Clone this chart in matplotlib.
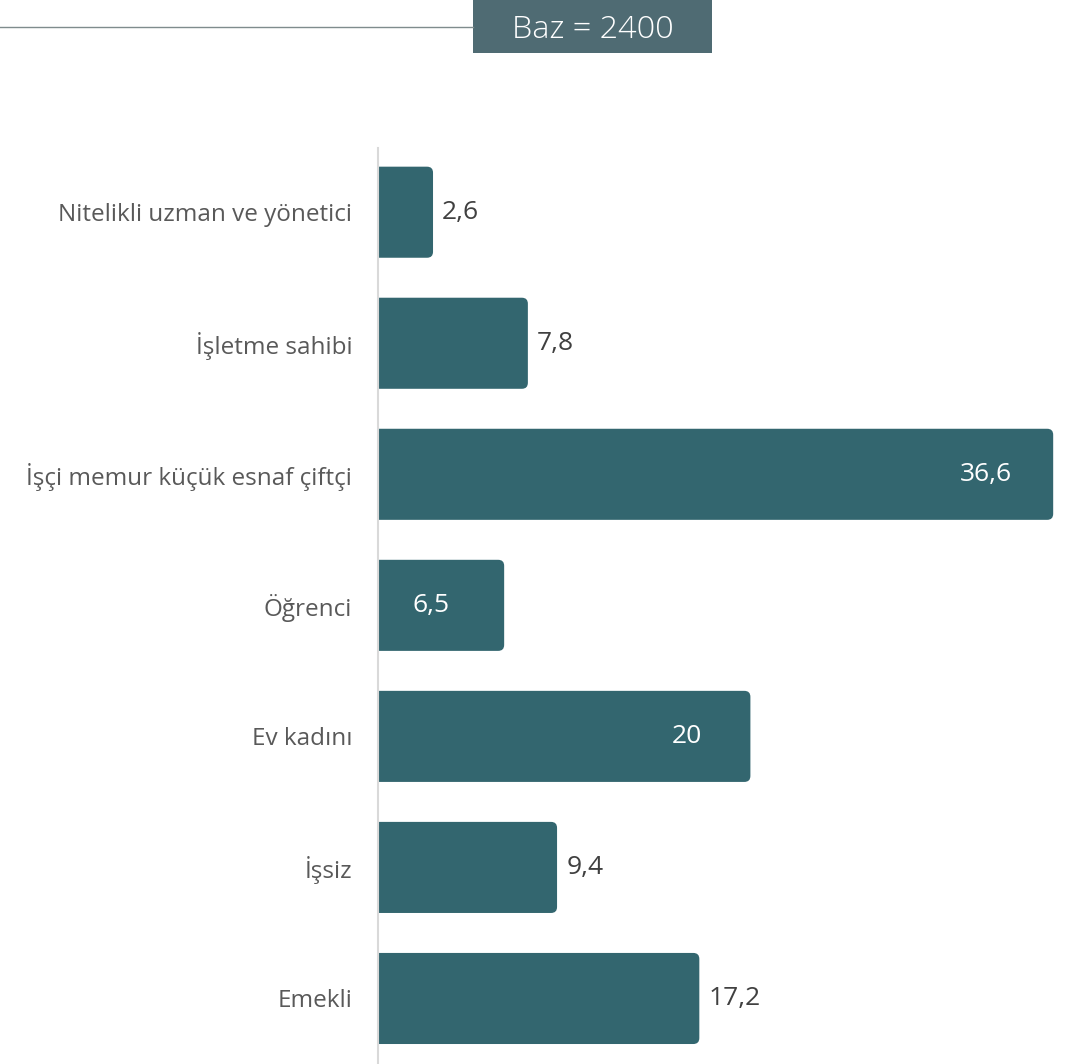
import matplotlib
matplotlib.use("Agg")
import matplotlib.pyplot as plt
from matplotlib.patches import FancyBboxPatch, Rectangle
from matplotlib.lines import Line2D

categories = ["Nitelikli uzman ve yönetici", "İşletme sahibi", "İşçi memur küçük esnaf çiftçi",
              "Öğrenci", "Ev kadını", "İşsiz", "Emekli"]
values = [2.6, 7.8, 36.6, 6.5, 20, 9.4, 17.2]
value_labels = ["2,6", "7,8", "36,6", "6,5", "20", "9,4", "17,2"]
inside = [False, False, True, True, True, False, False]
header_text = "Baz = 2400"

plt.rcParams['font.family'] = ['Open Sans', 'DejaVu Sans']

W, H = 1071, 1064
fig = plt.figure(figsize=(W / 100, H / 100), dpi=100)

ax_left, ax_right = 378, 1071
ax_top, ax_bottom = 148, 1064
ax = fig.add_axes([ax_left / W, 1 - ax_bottom / H, (ax_right - ax_left) / W, (ax_bottom - ax_top) / H])

px_per_unit = 18.24
x0 = -7.6 / px_per_unit
xmax = x0 + (ax_right - ax_left) / px_per_unit
ax.set_xlim(x0, xmax)
ax.set_ylim(6.5, -0.49)

bar_color = "#33666F"
bar_h = 0.695
r = 6 / px_per_unit
ma = px_per_unit / 131.0
for i, v in enumerate(values):
    p = FancyBboxPatch((x0 - 1, i - bar_h / 2), v - x0 + 1, bar_h,
                       boxstyle=f"round,pad=0,rounding_size={r}",
                       mutation_aspect=ma, facecolor=bar_color, edgecolor="none",
                       clip_on=True)
    ax.add_patch(p)
    if inside[i]:
        ax.text(v * 1.025 - 3.15, i, value_labels[i], ha="right", va="center",
                fontsize=19, color="white")
    else:
        ax.text(v + 0.5, i, value_labels[i], ha="left", va="center",
                fontsize=19, color="#404040")

ax.set_yticks(range(len(categories)))
ax.set_yticklabels(categories)
ax.tick_params(axis="y", length=0, pad=18.5, labelsize=17.5, labelcolor="#595959")
ax.set_xticks([])
for s in ["top", "right", "bottom"]:
    ax.spines[s].set_visible(False)
ax.spines["left"].set_color("#D9D9D9")
ax.spines["left"].set_linewidth(1.5)
ax.spines["left"].set_position(("data", x0))

# header
fig.patches.append(Rectangle((473 / W, 1 - 53 / H), (712 - 473) / W, 53 / H,
                             transform=fig.transFigure, facecolor="#4F6B73",
                             edgecolor="none"))
fig.text((473 + 712) / 2 / W, 1 - 30 / H, header_text, ha="center", va="center",
         fontsize=23.3, color="white", fontweight="light")
fig.lines.append(Line2D([0, 473 / W], [1 - 27 / H, 1 - 27 / H], transform=fig.transFigure,
                        color="#7F8C8D", linewidth=1))

fig.savefig("out.png", dpi=100)
